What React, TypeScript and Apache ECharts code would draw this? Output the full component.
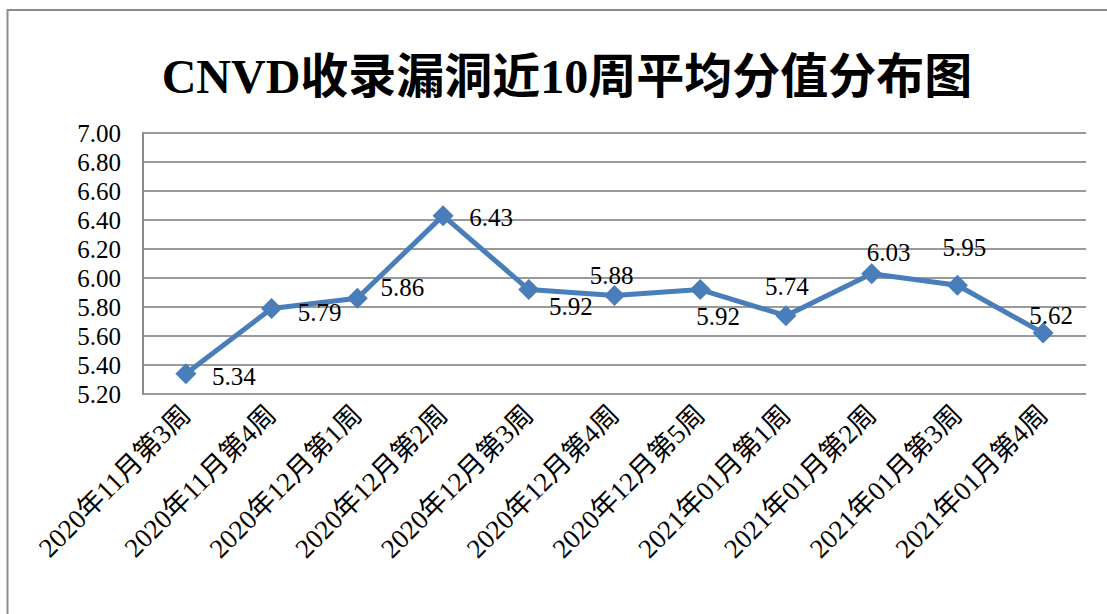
import React, { useEffect, useRef } from "react";
import * as echarts from "echarts";

const categories = [
  "2020年11月第3周",
  "2020年11月第4周",
  "2020年12月第1周",
  "2020年12月第2周",
  "2020年12月第3周",
  "2020年12月第4周",
  "2020年12月第5周",
  "2021年01月第1周",
  "2021年01月第2周",
  "2021年01月第3周",
  "2021年01月第4周",
];
const values = [5.34, 5.79, 5.86, 6.43, 5.92, 5.88, 5.92, 5.74, 6.03, 5.95, 5.62];
const yTicks = { min: 5.2, max: 7.0, interval: 0.2 };
const titleText = "CNVD收录漏洞近10周平均分值分布图";

// label placement offsets (style only)
const labelOffsets: [number, number][] = [
  [48, 3], [48, 4], [45, -11], [48, 2], [42, 17], [-3, -20],
  [18, 27], [1, -29], [17, -21], [7, -38], [8, -18],
];

const FONT = "'Times New Roman', 'Liberation Serif', 'Noto Sans CJK SC', serif";

export default function App() {
  const ref = useRef<HTMLDivElement>(null);
  useEffect(() => {
    document.body.style.margin = "0";
    if (!ref.current) return;
    const chart = echarts.init(ref.current, null, { renderer: "svg" });
    chart.setOption({
      animation: false,
      backgroundColor: "#ffffff",
      textStyle: { fontFamily: FONT },
      graphic: [
        {
          type: "rect",
          shape: { x: 7.5, y: 10, width: 1200, height: 700 },
          style: { fill: "none", stroke: "#8c8c8c", lineWidth: 2 },
          silent: true,
        },
        {
          type: "text",
          x: 567,
          y: 76,
          style: {
            text: titleText,
            fontFamily: FONT,
            fontSize: 48,
            fontWeight: "bold",
            fill: "#000",
            textAlign: "center",
            textVerticalAlign: "middle",
          },
        },
      ],
      grid: { left: 143, right: 21, top: 133, bottom: 220, containLabel: false },
      xAxis: {
        type: "category",
        data: categories,
        boundaryGap: true,
        axisLine: { show: false },
        axisTick: { show: false },
        splitLine: { show: false },
        axisLabel: {
          rotate: 45,
          interval: 0,
          margin: 16,
          fontSize: 27,
          color: "#000",
          fontFamily: FONT,
        },
      },
      yAxis: {
        type: "value",
        min: yTicks.min,
        max: yTicks.max,
        interval: yTicks.interval,
        axisLine: { show: true, lineStyle: { color: "#8c8c8c", width: 2 } },
        axisTick: { show: false },
        splitLine: { show: true, lineStyle: { color: "#9a9a9a", width: 2 } },
        axisLabel: {
          margin: 22,
          fontSize: 25,
          color: "#000",
          fontFamily: FONT,
          formatter: (v: number) => v.toFixed(2),
        },
      },
      series: [
        {
          type: "line",
          data: values.map((v, i) => ({
            value: v,
            label: { offset: labelOffsets[i] },
          })),
          symbol: "diamond",
          symbolSize: 21,
          lineStyle: { color: "#4a7ebb", width: 5 },
          itemStyle: { color: "#4a7ebb" },
          label: {
            show: true,
            position: "inside",
            fontSize: 25,
            color: "#000",
            fontFamily: FONT,
            formatter: (p: any) => Number(p.value).toFixed(2),
          },
        },
      ],
    });
    return () => chart.dispose();
  }, []);
  return <div ref={ref} style={{ width: 1107, height: 614 }} />;
}
